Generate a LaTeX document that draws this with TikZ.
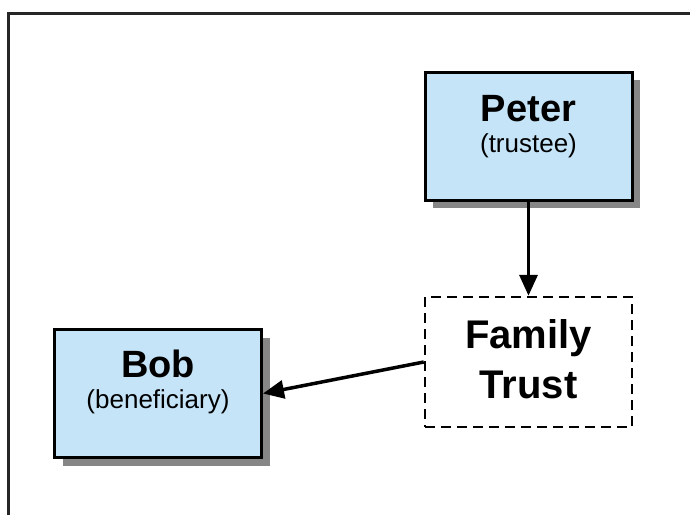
\documentclass[tikz,border=0pt]{standalone}
\usepackage{fontspec}
\setmainfont{Liberation Sans}
\usepackage{tikz}
\usetikzlibrary{arrows.meta, positioning, shadows}
\definecolor{boxblue}{RGB}{198,228,248}
\newcommand{\bigname}[1]{{\fontsize{38}{31}\selectfont\bfseries #1}}

\begin{document}
\begin{tikzpicture}[x=1pt, y=-1pt,
    person/.style={draw, line width=3pt, fill=boxblue, align=center,
        minimum width=207pt, minimum height=128pt, inner sep=0pt,
        font=\fontsize{26}{31}\selectfont, text depth=10pt,
        drop shadow={shadow xshift=8pt, shadow yshift=-8pt, fill=gray!95, opacity=1}},
    trust/.style={draw, line width=2.5pt, dash pattern=on 10pt off 6pt, align=center,
        minimum width=207pt, minimum height=130pt, inner sep=0pt,
        font=\fontsize{40}{50}\selectfont\bfseries, text depth=10pt},
    link/.style={line width=3.5pt, -{Triangle[length=21pt, width=18pt]}}]
    \useasboundingbox (0, 0) rectangle (690, 515);

    % Rahmen
    \draw[line width=3pt, black!85] (8, 515) -- (8, 13) -- (690, 13);

    % Personen
    \node[person, text height=42pt] (peter) at (528.5, 136)
        {\bigname{Peter}\\(trustee)};
    \node[person, text height=39pt] (bob) at (158, 393.5)
        {\bigname{Bob}\\(beneficiary)};

    % Trust
    \node[trust, text height=82pt] (fam) at (528.5, 362) {Family\\Trust};

    % Pfeile
    \draw[link] (peter.south) -- (fam.north);
    \draw[link] (fam.west) -- (bob.east);
\end{tikzpicture}
\end{document}
